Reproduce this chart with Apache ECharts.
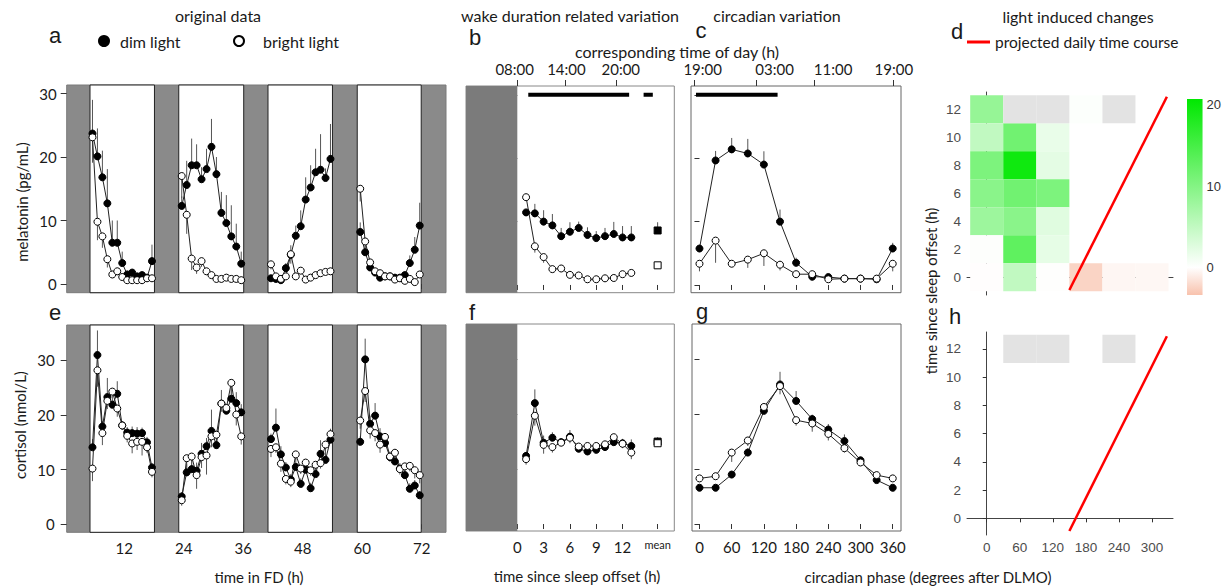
<!DOCTYPE html>
<html><head><meta charset="utf-8">
<script src="https://cdn.jsdelivr.net/npm/echarts@6/dist/echarts.min.js"></script>
<style>html,body{margin:0;padding:0;background:#fff}#c{width:1224px;height:588px}</style>
</head><body><div id="c"></div>
<script>
// ================= DATA =================
// panels a / e : original data (time in FD, h)
const fdHours = [5.6,6.6,7.6,8.6,9.6,10.6,11.6,12.6,13.6,14.6,15.6,16.6,17.6,
 23.6,24.6,25.6,26.6,27.6,28.6,29.6,30.6,31.6,32.6,33.6,34.6,35.6,
 41.6,42.6,43.6,44.6,45.6,46.6,47.6,48.6,49.6,50.6,51.6,52.6,53.6,
 59.6,60.6,61.6,62.6,63.6,64.6,65.6,66.6,67.6,68.6,69.6,70.6,71.6];
const wakeStart = [5.1, 23.0, 41.0, 59.0];
const wakeEnd = [18.1, 36.1, 54.0, 71.9];
const fdTicks = [12,24,36,48,60,72];

const melDim = [23.7,20.1,16.8,12.7,6.5,6.5,3.3,1.5,1.8,1.2,1.4,1.0,3.6,
 12.3,15.6,18.7,18.7,16.5,18.1,21.6,17.3,11.2,9.6,7.5,5.9,3.2,
 0.9,0.8,0.6,2.5,4.6,7.6,9.1,13.3,15.2,17.6,18.0,16.7,19.7,
 8.2,5.0,2.6,1.8,1.0,1.2,1.2,1.0,1.0,1.4,3.3,5.4,9.2];
const melDimErr = [5.3,4.4,4.2,5.4,3.5,3.5,1.8,0.6,0.5,0.3,0.4,0.3,2.6,
 1.5,3.8,4.2,3.3,1.9,3.2,4.4,2.7,3.3,4.4,4.9,3.6,1.9,
 0.3,0.3,0.3,0.8,1.5,1.6,2.5,3.5,3.5,3.7,5.6,1.5,5.5,
 1.5,1.0,0.5,0.3,0.2,0.3,0.3,0.2,0.3,0.5,1.2,2.0,3.6];
const melBright = [23.1,9.8,7.5,3.9,1.5,2.0,1.1,0.6,0.6,0.6,0.6,0.9,0.9,
 17.0,10.9,4.0,2.6,3.6,2.0,1.4,0.8,0.8,1.0,0.8,0.8,0.6,
 3.1,1.2,0.8,1.2,4.7,1.2,2.1,0.7,1.0,1.4,1.7,1.9,2.0,
 15.0,6.7,3.4,2.0,1.7,1.2,1.2,0.7,0.9,0.5,0.8,0.3,1.5];
const melBrightErr = [4.0,2.9,1.8,1.3,0.5,0.6,0.3,0.2,0.2,0.2,0.2,0.2,0.2,
 3.5,3.0,1.8,1.0,0.9,0.5,0.3,0.2,0.2,0.2,0.2,0.2,0.2,
 0.8,0.4,0.3,0.3,1.5,0.3,0.5,0.2,0.2,0.2,0.2,0.2,0.2,
 2.0,1.2,0.8,0.5,0.4,0.2,0.2,0.2,0.2,0.2,0.2,0.2,0.3];

const corDim = [14.1,31.0,17.9,23.3,21.9,23.9,18.1,16.8,16.7,16.6,16.7,15.0,10.4,
 5.1,9.5,10.1,9.8,12.9,14.3,17.1,14.5,22.1,20.8,23.0,22.2,20.5,
 15.6,17.7,12.8,10.4,8.2,10.5,7.4,10.0,6.6,9.2,12.9,11.8,15.5,
 15.1,30.2,18.4,19.9,16.1,14.9,12.3,11.5,10.2,9.0,6.5,7.1,5.3];
const corDimErr = [1.5,4.5,1.0,3.5,1.5,2.3,0.8,1.0,1.2,1.2,1.0,1.0,0.8,
 0.8,1.5,2.0,1.5,2.0,1.5,3.9,1.5,2.5,1.0,1.8,2.0,1.5,
 1.0,3.5,1.5,1.0,1.0,1.5,1.0,1.5,1.0,1.5,2.5,2.0,2.0,
 1.0,3.8,1.5,2.3,1.5,1.0,1.0,1.0,1.0,1.0,1.0,1.0,0.8];
const corBright = [10.2,28.2,16.7,22.6,24.3,21.2,18.1,16.2,14.8,15.1,15.1,14.1,9.6,
 4.4,12.1,12.4,9.0,12.3,12.6,16.1,16.4,22.1,21.3,25.9,20.1,16.1,
 13.8,14.1,11.1,8.3,7.8,12.8,10.2,11.3,9.9,10.9,11.2,14.6,16.5,
 19.0,24.4,17.2,16.7,14.6,16.0,12.4,13.1,10.1,10.6,10.7,9.9,9.0];
const corBrightErr = [2.3,3.0,2.2,1.5,1.0,1.5,0.8,1.2,1.8,1.5,2.5,1.0,1.0,
 1.0,2.0,2.5,2.5,2.0,3.5,2.0,2.5,1.5,1.0,2.0,2.0,1.5,
 1.5,1.0,1.5,1.0,1.0,1.0,1.0,1.5,1.0,1.0,1.0,1.0,1.0,
 1.5,2.0,1.5,1.5,1.5,1.0,1.0,1.0,1.0,1.0,1.0,1.5,1.5];

// panels b / f : wake duration related (time since sleep offset, h)
const wakeHours = [1,2,3,4,5,6,7,8,9,10,11,12,13];
const wakeTicks = [0,3,6,9,12,16];
const meanPos = 16;
const bMelDim = [11.45,11.3,10.0,9.4,7.7,8.4,9.0,7.9,7.4,7.7,8.05,7.5,7.5];
const bMelDimErr = [0.5,1.5,1.8,1.8,1.3,1.5,1.0,1.2,1.1,1.3,1.9,1.8,1.8];
const bMelBright = [13.85,6.1,4.4,2.5,2.6,1.6,1.5,0.9,0.9,1.05,1.1,1.7,1.9];
const bMelBrightErr = [0.6,1.0,0.9,0.4,0.4,0.3,0.2,0.2,0.2,0.2,0.2,0.2,0.2];
const bMelMean = [8.6, 3.1];
const bMelMeanErr = [1.3, 0.3];
const bCorDim = [12.4,22.0,14.8,15.7,14.9,15.9,13.7,13.2,13.5,14.0,14.9,14.7,14.2];
const bCorDimErr = [0.6,2.5,1.3,1.0,0.5,1.2,0.5,0.5,0.5,0.5,0.5,0.8,1.2];
const bCorBright = [11.8,19.7,14.4,14.0,14.8,15.7,14.1,14.2,14.2,14.5,15.8,14.6,13.0];
const bCorBrightErr = [1.0,1.8,1.6,1.0,0.6,1.0,0.5,0.5,0.5,0.5,0.6,0.8,1.2];
const bCorMean = [15.0, 14.7];
const bCorMeanErr = [0.8, 0.6];
const bSigBars = [[1.25,12.75],[14.4,15.45]];
const bTopTickVals = [0, 5.47, 11.33];
const bTopLabelVals = [-0.3, 5.6, 11.8];
const bTopLabels = ['08:00','14:00','20:00'];

// panels c / g : circadian variation (degrees after DLMO)
const phase = [0,30,60,90,120,150,180,210,240,270,300,330,360];
const phaseTicks = [0,60,120,180,240,300,360];
const cMelDim = [5.75,19.65,21.4,20.75,19.0,10.0,3.5,1.3,1.25,1.0,1.0,0.9,5.75];
const cMelDimErr = [0.5,1.5,1.8,2.3,2.1,1.9,0.8,0.3,0.2,0.2,0.2,0.2,0.9];
const cMelBright = [3.35,7.0,3.35,4.0,5.0,3.2,1.7,1.7,0.9,1.0,1.0,1.0,3.35];
const cMelBrightErr = [1.2,3.5,0.3,1.3,2.0,0.9,0.3,0.3,0.2,0.2,0.2,0.2,1.2];
const cCorDim = [6.6,6.6,9.0,13.0,20.6,25.4,22.4,19.1,17.2,15.1,11.6,8.0,6.6];
const cCorDimErr = [0.3,0.3,0.5,0.8,0.5,2.3,1.8,0.8,1.0,1.2,0.5,0.3,0.3];
const cCorBright = [8.3,8.7,13.0,15.2,21.3,25.1,18.9,18.3,16.4,13.8,11.2,8.9,8.3];
const cCorBrightErr = [0.3,0.5,1.7,1.0,0.5,1.5,1.0,1.5,1.2,0.8,0.5,0.3,0.3];
const cSigBars = [[-6.5,145.5]];
const sigLevel = 30;
const cTopTickVals = [-10, 105, 214, 361];
const cTopLabelVals = [6, 140, 249, 362];
const cTopLabels = ['19:00','03:00','11:00','19:00'];

// panels d / h : light induced changes [phase, hours since sleep offset, value]
const heatCells = [[0,12,8.5],[0,10,5],[60,10,11.5],[120,10,1.8],[0,8,10.5],[60,8,19.5],[120,8,2.2],
 [0,6,9.5],[60,6,11.5],[120,6,10.5],[0,4,8],[60,4,9.5],[120,4,2.5],[0,2,0.1],[60,2,13],[120,2,2],
 [0,0,-0.1],[60,0,5],[120,0,0],[180,0,-2.4],[240,0,-0.5],[300,0,-0.45],[180,12,0.2]];
const naCellsD = [[60,12],[120,12],[240,12]];
const naCellsH = [[60,12],[120,12],[240,12]];
const projLine = [[150,-0.9],[327,12.9]];
const heatXTicks = [0,60,120,180,240,300];
const heatYTicks = [0,2,4,6,8,10,12];
const cbMin = -3.4, cbMax = 20.7;
const cbTicks = [0,10,20];

// ================= STYLE / HELPERS =================
const FONT = 'Lato, "Open Sans", sans-serif';
const HFONT = '"Liberation Sans", Arial, sans-serif';
const TXT = '#1a1a1a';
const POS = [0,232,0], NEG = [248,194,173], WHITE = [255,255,255];
function mix(a,b,t){return 'rgb('+a.map((v,i)=>Math.round(v+(b[i]-v)*t)).join(',')+')';}
function heatColor(v){return v<0 ? mix(WHITE,NEG,Math.min(1,v/cbMin)) : mix(WHITE,POS,Math.min(1,v/cbMax));}
const colorList = [];
for(let i=0;i<=80;i++){colorList.push(heatColor(cbMin+(cbMax-cbMin)*i/80));}

function nearestLabel(vals, labels){
  return v => { let best=-1, bd=1e9; vals.forEach((x,i)=>{const d=Math.abs(x-v); if(d<bd){bd=d;best=i;}}); return bd<0.01?labels[best]:''; };
}

function xAx(grid,min,max,ticks,opts){
  opts=opts||{};
  return {type:'value',gridIndex:grid,min,max,position:opts.position||'bottom',
    axisLine:{show:!!opts.line,lineStyle:{color:'#444',width:1}},splitLine:{show:false},
    axisTick:{show:true,inside:false,length:opts.tickLen||5,customValues:ticks,lineStyle:{color:'#333'}},
    axisLabel:{show:!!opts.labels,customValues:opts.labelVals||ticks,formatter:opts.fmt,margin:opts.margin==null?8:opts.margin,
      color:opts.color||TXT,fontSize:opts.size||15,fontFamily:opts.family||FONT,rich:opts.rich},
    axisPointer:{show:false}};
}
function yAx(grid,min,max,ticks,opts){
  opts=opts||{};
  return {type:'value',gridIndex:grid,min,max,position:opts.position||'left',
    axisLine:{show:!!opts.line,lineStyle:{color:'#444',width:1}},splitLine:{show:false},
    axisTick:{show:opts.noTick?false:true,inside:false,length:opts.tickLen||6,customValues:ticks,lineStyle:{color:'#333'}},
    axisLabel:{show:!!opts.labels,customValues:ticks,margin:opts.margin==null?10:opts.margin,
      color:opts.color||TXT,fontSize:opts.size||15,fontFamily:opts.family||FONT},
    axisPointer:{show:false}};
}

function bandSeries(xi,yi,pairs,fill,stroke){
  return {type:'custom',xAxisIndex:xi,yAxisIndex:yi,z:1,silent:true,data:pairs,encode:{x:[0,1]},
    renderItem:(params,api)=>{
      const cs=params.coordSys;
      const x0=Math.max(cs.x,api.coord([api.value(0),0])[0]);
      const x1=Math.min(cs.x+cs.width,api.coord([api.value(1),0])[0]);
      return {type:'rect',shape:{x:x0,y:cs.y,width:x1-x0,height:cs.height},
        style:{fill:fill,stroke:stroke||null,lineWidth:stroke?1:0}};
    }};
}
function errSeries(xi,yi,xs,ys,es,dir){
  return {type:'custom',xAxisIndex:xi,yAxisIndex:yi,z:2,silent:true,
    data:xs.map((x,i)=>[x,ys[i],es[i]]),encode:{x:0,y:1},
    renderItem:(params,api)=>{
      const x=api.value(0),y=api.value(1),e=api.value(2);
      const p0=api.coord([x,y]),p1=api.coord([x,y+dir*e]);
      return {type:'line',shape:{x1:p0[0],y1:p0[1],x2:p1[0],y2:p1[1]},style:{stroke:'#555',lineWidth:1}};
    }};
}
function lineSeries(xi,yi,pts){
  return {type:'line',xAxisIndex:xi,yAxisIndex:yi,z:3,silent:true,showSymbol:false,symbol:'none',
    data:pts,lineStyle:{color:'#222',width:1},animation:false};
}
function markSeries(xi,yi,name,pts,filled,symbol){
  return {type:'scatter',name:name,xAxisIndex:xi,yAxisIndex:yi,z:filled?4:5,silent:true,
    symbol:symbol||'circle',symbolSize:7,data:pts,
    itemStyle:{color:filled?'#000':'#fff',borderColor:'#000',borderWidth:1,opacity:1}};
}
function pairs(xs,ys){return xs.map((x,i)=>[x,ys[i]]);}

function addPanel(S,xi,yi,xs,dim,dimErr,br,brErr,split){
  S.push(errSeries(xi,yi,xs,dim,dimErr,1));
  S.push(errSeries(xi,yi,xs,br,brErr,-1));
  if(split){
    wakeStart.forEach((s,w)=>{
      const sel=i=>xs[i]>=s&&xs[i]<=wakeEnd[w];
      S.push(lineSeries(xi,yi,pairs(xs,dim).filter((p,i)=>sel(i))));
      S.push(lineSeries(xi,yi,pairs(xs,br).filter((p,i)=>sel(i))));
    });
  } else {
    S.push(lineSeries(xi,yi,pairs(xs,dim)));
    S.push(lineSeries(xi,yi,pairs(xs,br)));
  }
  S.push(markSeries(xi,yi,'dim light',pairs(xs,dim),true));
  S.push(markSeries(xi,yi,'bright light',pairs(xs,br),false));
}
function sigSeries(xi,yi,bars,width){
  return bars.map(b=>({type:'line',xAxisIndex:xi,yAxisIndex:yi,z:3,silent:true,symbol:'none',
    data:[[b[0],sigLevel],[b[1],sigLevel]],lineStyle:{color:'#000',width:width,cap:'butt'}}));
}
function meanSeries(S,xi,yi,vals,errs){
  S.push(errSeries(xi,yi,[meanPos],[vals[0]],[errs[0]],1));
  S.push(errSeries(xi,yi,[meanPos],[vals[1]],[errs[1]],-1));
  S.push(markSeries(xi,yi,'mean dim',[[meanPos,vals[0]]],true,'rect'));
  S.push(markSeries(xi,yi,'mean bright',[[meanPos,vals[1]]],false,'rect'));
}

// ================= LAYOUT =================
const grid = [
  {left:66.7,top:85,width:379.3,height:207.7,show:true,backgroundColor:'#8a8a8a',borderColor:'#7a7a7a',borderWidth:1}, //0 a
  {left:66.7,top:325,width:379.3,height:207.3,show:true,backgroundColor:'#8a8a8a',borderColor:'#7a7a7a',borderWidth:1}, //1 e
  {left:466,top:86,width:208.3,height:206.7,show:true,backgroundColor:'#fff',borderColor:'#888',borderWidth:1}, //2 b
  {left:466,top:324,width:208.3,height:207,show:true,backgroundColor:'#fff',borderColor:'#888',borderWidth:1}, //3 f
  {left:691,top:86,width:210,height:206.7,show:true,backgroundColor:'#fff',borderColor:'#666',borderWidth:1}, //4 c
  {left:692,top:324,width:209,height:207,show:true,backgroundColor:'#fff',borderColor:'#666',borderWidth:1}, //5 g
  {left:967,top:92,width:206,height:203}, //6 d
  {left:967,top:332,width:206,height:203}, //7 h
  {left:1187,top:99,width:19,height:196} //8 colorbar
];
const phMin=-15.8, phMax=375.4;
const xAxis = [
  xAx(0,0.4,76.9,fdTicks), //0
  xAx(1,0.4,76.9,fdTicks,{labels:true,margin:8}), //1
  xAx(2,-5.85,17.9,wakeTicks), //2
  xAx(2,-5.85,17.9,bTopTickVals,{position:'top',tickLen:6,labels:true,labelVals:bTopLabelVals,fmt:nearestLabel(bTopLabelVals,bTopLabels),margin:10}), //3
  xAx(3,-5.85,17.9,wakeTicks,{labels:true,margin:8,fmt:v=>v===meanPos?'{m|mean}':String(v),rich:{m:{fontSize:11,fontFamily:FONT,color:TXT}}}), //4
  xAx(4,phMin,phMax,phaseTicks), //5
  xAx(4,phMin,phMax,cTopTickVals,{position:'top',tickLen:6,labels:true,labelVals:cTopLabelVals,fmt:nearestLabel(cTopLabelVals,cTopLabels),margin:10}), //6
  xAx(5,-14,phMax,phaseTicks,{labels:true,margin:8}), //7
  xAx(6,-35.8,338.1,heatXTicks,{line:true,tickLen:4}), //8
  xAx(7,-35.8,338.1,heatXTicks,{line:true,tickLen:4,labels:true,margin:5,size:13.5,family:HFONT,color:'#4d4d4d'}), //9
  {type:'value',gridIndex:8,min:0,max:1,show:false} //10
];
const yAxis = [
  yAx(0,-1.37,31.34,[0,10,20,30],{labels:true,margin:10}), //0
  yAx(1,-1.47,36.5,[0,10,20,30],{labels:true,margin:12}), //1
  yAx(2,-1.22,31.4,[0,10,20,30],{tickLen:5}), //2
  yAx(3,-1.27,36.4,[0,10,20,30],{tickLen:5}), //3
  yAx(4,-1.22,31.4,[0,10,20,30],{tickLen:5}), //4
  yAx(5,-1.27,36.4,[0,10,20,30],{tickLen:5}), //5
  yAx(6,-1.26,13.24,heatYTicks,{line:true,tickLen:4,labels:true,margin:6,size:13.5,family:HFONT,color:'#4d4d4d'}), //6
  yAx(7,-1.18,13.2,heatYTicks,{line:true,tickLen:4,labels:true,margin:6,size:13.5,family:HFONT,color:'#4d4d4d'}), //7
  yAx(8,cbMin,cbMax,cbTicks,{position:'right',noTick:true,labels:true,margin:4,size:13,family:HFONT,color:'#333'}) //8
];

// ================= SERIES =================
const S = [];
// a
S.push(bandSeries(0,0,wakeStart.map((s,i)=>[s,wakeEnd[i]]),'#fff','#222'));
addPanel(S,0,0,fdHours,melDim,melDimErr,melBright,melBrightErr,true);
// e
S.push(bandSeries(1,1,wakeStart.map((s,i)=>[s,wakeEnd[i]]),'#fff','#222'));
addPanel(S,1,1,fdHours,corDim,corDimErr,corBright,corBrightErr,true);
// b
S.push(bandSeries(2,2,[[-6,0]],'#7b7b7b',null));
addPanel(S,2,2,wakeHours,bMelDim,bMelDimErr,bMelBright,bMelBrightErr,false);
meanSeries(S,2,2,bMelMean,bMelMeanErr);
sigSeries(2,2,bSigBars,4).forEach(s=>S.push(s));
// f
S.push(bandSeries(4,3,[[-6,0]],'#7b7b7b',null));
addPanel(S,4,3,wakeHours,bCorDim,bCorDimErr,bCorBright,bCorBrightErr,false);
meanSeries(S,4,3,bCorMean,bCorMeanErr);
// c
addPanel(S,5,4,phase,cMelDim,cMelDimErr,cMelBright,cMelBrightErr,false);
sigSeries(5,4,cSigBars,4).forEach(s=>S.push(s));
// g
addPanel(S,7,5,phase,cCorDim,cCorDimErr,cCorBright,cCorBrightErr,false);
// d heatmap
function cellRender(fixedFill){
  return (params,api)=>{
    const x=api.value(0),y=api.value(1);
    const p0=api.coord([x-30,y+1]),p1=api.coord([x+30,y-1]);
    return {type:'rect',shape:{x:p0[0],y:p0[1],width:p1[0]-p0[0],height:p1[1]-p0[1]},
      style:{fill:fixedFill||api.visual('color'),stroke:null}};
  };
}
const heatIdx = S.length;
S.push({type:'custom',name:'heat',xAxisIndex:8,yAxisIndex:6,z:2,silent:true,data:heatCells,encode:{x:0,y:1},renderItem:cellRender(null)});
S.push({type:'custom',xAxisIndex:8,yAxisIndex:6,z:2,silent:true,data:naCellsD,encode:{x:0,y:1},renderItem:cellRender('#e3e3e3')});
S.push({type:'line',name:'projected daily time course',xAxisIndex:8,yAxisIndex:6,z:5,silent:true,symbol:'none',data:projLine,
  itemStyle:{color:'#ff0000'},lineStyle:{color:'#ff0000',width:2.5}});
// h
S.push({type:'custom',xAxisIndex:9,yAxisIndex:7,z:2,silent:true,data:naCellsH,encode:{x:0,y:1},renderItem:cellRender('#e3e3e3')});
S.push({type:'line',name:'projected daily time course',xAxisIndex:9,yAxisIndex:7,z:5,silent:true,symbol:'none',data:projLine,
  itemStyle:{color:'#ff0000'},lineStyle:{color:'#ff0000',width:2.5}});
// colorbar
S.push({type:'custom',xAxisIndex:10,yAxisIndex:8,silent:true,data:[[0.5,0]],encode:{x:0,y:1},
  renderItem:(params,api)=>{const cs=params.coordSys;
    return {type:'rect',shape:{x:cs.x,y:cs.y,width:cs.width,height:cs.height},
      style:{fill:new echarts.graphic.LinearGradient(0,0,0,1,[
        {offset:0,color:heatColor(cbMax)},{offset:cbMax/(cbMax-cbMin),color:'#ffffff'},{offset:1,color:heatColor(cbMin)}])}};
  }});

// ================= TEXT =================
function T(x,y,text,size,o){
  o=o||{};
  return {type:'text',x:x,y:y,rotation:o.rot||0,silent:true,z:10,
    style:{text:text,fill:o.color||TXT,font:size+'px '+(o.family||FONT),
      textAlign:o.align||'center',textVerticalAlign:'middle',align:o.align||'center',verticalAlign:'middle'}};
}
const graphic = [
  T(218,15,'original data',16),
  T(570,15,'wake duration related variation',16),
  T(777,15,'circadian variation',16),
  T(1078,16,'light induced changes',16),
  T(55,35,'a',22,{family:HFONT}),
  T(475,37,'b',22,{family:HFONT}),
  T(701,30,'c',22,{family:HFONT}),
  T(957,31,'d',22,{family:HFONT}),
  T(55,312,'e',22,{family:HFONT}),
  T(472,312,'f',22,{family:HFONT}),
  T(702,311,'g',22,{family:HFONT}),
  T(955,316,'h',22,{family:HFONT}),
  T(677,51,'corresponding time of day (h)',16),
  T(22,202,'melatonin (pg/mL)',15,{rot:Math.PI/2}),
  T(20,425,'cortisol (nmol/L)',15,{rot:Math.PI/2}),
  T(931,291,'time since sleep offset (h)',15,{rot:Math.PI/2}),
  T(259,577,'time in FD (h)',15),
  T(577,576,'time since sleep offset (h)',15),
  T(928,577,'circadian phase (degrees after DLMO)',15)
];

const legendBase = {orient:'horizontal',padding:0,selectedMode:false,itemGap:10,
  textStyle:{fontFamily:FONT,fontSize:16,color:TXT}};
const option = {
  animation:false,
  backgroundColor:'#fff',
  grid:grid, xAxis:xAxis, yAxis:yAxis, series:S, graphic:graphic,
  visualMap:[{type:'continuous',show:false,min:cbMin,max:cbMax,dimension:2,seriesIndex:heatIdx,inRange:{color:colorList}}],
  legend:[
    Object.assign({},legendBase,{data:[{name:'dim light',icon:'circle'}],left:98,top:33,itemWidth:10,itemHeight:10,
      textStyle:{fontFamily:FONT,fontSize:16,color:TXT,padding:[0,0,0,6]}}),
    Object.assign({},legendBase,{data:[{name:'bright light',icon:'circle'}],left:233,top:33,itemWidth:10,itemHeight:10,
      textStyle:{fontFamily:FONT,fontSize:16,color:TXT,padding:[0,0,0,14]}}),
    Object.assign({},legendBase,{data:[{name:'projected daily time course',icon:'rect'}],left:967,top:34,itemWidth:23,itemHeight:3,
      textStyle:{fontFamily:FONT,fontSize:15.5,color:TXT}})
  ]
};
const chart = echarts.init(document.getElementById('c'),null,{renderer:'svg'});
chart.setOption(option);
</script></body></html>
